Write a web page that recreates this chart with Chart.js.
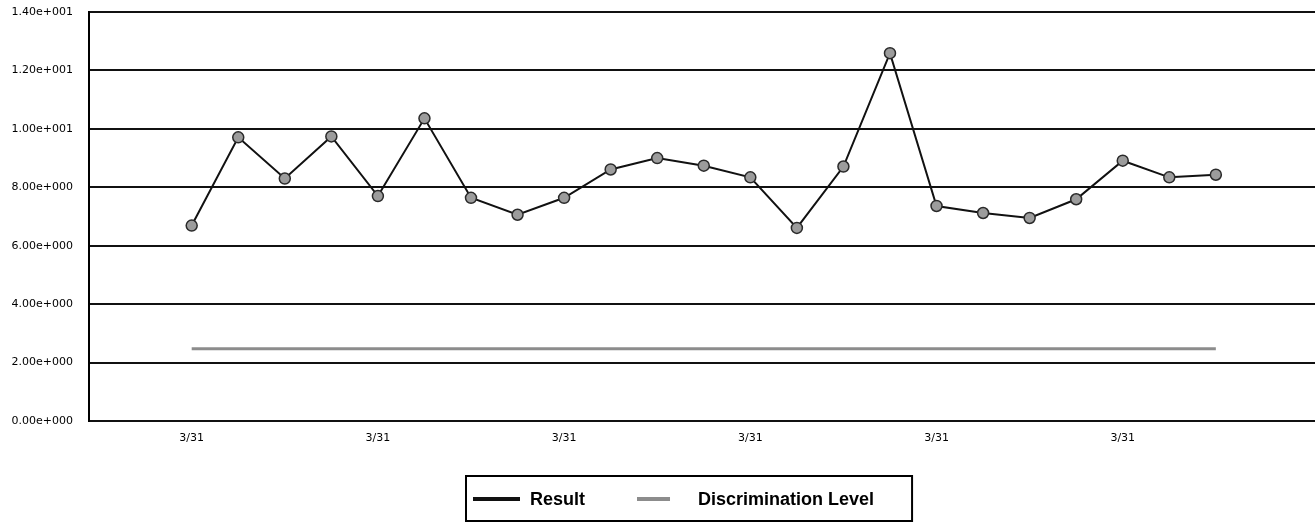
<!DOCTYPE html>
<html>
<head>
<meta charset="utf-8">
<script src="https://cdn.jsdelivr.net/npm/chart.js@4.4.1/dist/chart.umd.min.js"></script>
<style>
  html, body { margin: 0; padding: 0; background: #fff; }
  #wrap { width: 1315px; height: 524px; }
</style>
</head>
<body>
<div id="wrap"><canvas id="c" width="1315" height="524"></canvas></div>
<script>
// ---- data ----
const resultValues = [6.69, 9.71, 8.30, 9.74, 7.70, 10.36, 7.64, 7.06, 7.64, 8.61, 9.00, 8.74, 8.34, 6.61, 8.71, 12.59, 7.36, 7.12, 6.95, 7.59, 8.91, 8.34, 8.43];
const discriminationValues = [2.47, 2.47, 2.47, 2.47, 2.47, 2.47, 2.47, 2.47, 2.47, 2.47, 2.47, 2.47, 2.47, 2.47, 2.47, 2.47, 2.47, 2.47, 2.47, 2.47, 2.47, 2.47, 2.47];
const xTickIndices = [0, 4, 8, 12, 16, 20];
const xTickLabels = ['3/31', '3/31', '3/31', '3/31', '3/31', '3/31'];
const yTickValues = [0, 2, 4, 6, 8, 10, 12, 14];
const yTickLabels = ['0.00e+000', '2.00e+000', '4.00e+000', '6.00e+000', '8.00e+000', '1.00e+001', '1.20e+001', '1.40e+001'];
const seriesNames = ['Result', 'Discrimination Level'];

const toPoints = arr => arr.map((v, i) => ({ x: i, y: v }));

const boxedLegend = {
  id: 'boxedLegend',
  afterDraw(chart) {
    const ctx = chart.ctx;
    const ds = chart.data.datasets;
    const cy = 499;
    let x = 473;
    const sampleW = [47, 33];
    const gapAfterSample = [10, 28];
    const gapAfterText = [52, 0];
    ctx.save();
    ctx.font = 'bold 18px "Liberation Sans", Arial, sans-serif';
    ctx.textBaseline = 'middle';
    ctx.textAlign = 'left';
    ds.forEach((d, i) => {
      ctx.beginPath();
      ctx.strokeStyle = d.borderColor;
      ctx.lineWidth = 4;
      ctx.moveTo(x, cy);
      ctx.lineTo(x + sampleW[i], cy);
      ctx.stroke();
      x += sampleW[i] + gapAfterSample[i];
      ctx.fillStyle = '#000';
      ctx.fillText(d.label, x, cy + 1);
      x += ctx.measureText(d.label).width + gapAfterText[i];
    });
    ctx.strokeStyle = '#000';
    ctx.lineWidth = 2;
    ctx.strokeRect(466, 476, x + 38 - 466, 45);
    ctx.restore();
  }
};

function zeroPadding(scale) {
  scale.paddingTop = 0;
  scale.paddingBottom = 0;
  scale.paddingLeft = 0;
  scale.paddingRight = 0;
}

new Chart(document.getElementById('c'), {
  type: 'line',
  data: {
    datasets: [
      {
        label: seriesNames[0],
        data: toPoints(resultValues),
        borderColor: '#111',
        borderWidth: 2,
        pointRadius: 5.5,
        pointBackgroundColor: '#9c9c9c',
        pointBorderColor: '#2a2a2a',
        pointBorderWidth: 1.5,
        tension: 0,
        order: 1
      },
      {
        label: seriesNames[1],
        data: toPoints(discriminationValues),
        borderColor: '#8c8c8c',
        borderWidth: 3,
        pointRadius: 0,
        tension: 0,
        order: 2
      }
    ]
  },
  options: {
    responsive: false,
    animation: false,
    layout: { autoPadding: false, padding: { top: 12, right: 0, left: 0, bottom: 0 } },
    plugins: {
      legend: { display: false },
      tooltip: { enabled: false }
    },
    scales: {
      x: {
        type: 'linear',
        min: -2.206,
        max: 24.13,
        afterFit(scale) { scale.height = 103; zeroPadding(scale); },
        afterBuildTicks(scale) { scale.ticks = xTickIndices.map(v => ({ value: v })); },
        grid: { display: false, drawTicks: false },
        border: { display: false },
        ticks: {
          padding: 11,
          autoSkip: false,
          maxRotation: 0,
          color: '#000',
          font: { family: '"DejaVu Sans", sans-serif', size: 11 },
          callback: (v) => { const k = xTickIndices.indexOf(v); return k >= 0 ? xTickLabels[k] : ''; }
        }
      },
      y: {
        min: 0,
        max: 14,
        afterFit(scale) { scale.width = 89; zeroPadding(scale); },
        afterBuildTicks(scale) { scale.ticks = yTickValues.map(v => ({ value: v })); },
        grid: { color: '#111', lineWidth: 2, drawTicks: false },
        border: { display: true, color: '#000', width: 2 },
        ticks: {
          padding: 16,
          color: '#000',
          font: { family: '"DejaVu Sans", sans-serif', size: 11 },
          callback: (v) => { const k = yTickValues.indexOf(v); return k >= 0 ? yTickLabels[k] : ''; }
        }
      }
    }
  },
  plugins: [boxedLegend]
});
</script>
</body>
</html>
